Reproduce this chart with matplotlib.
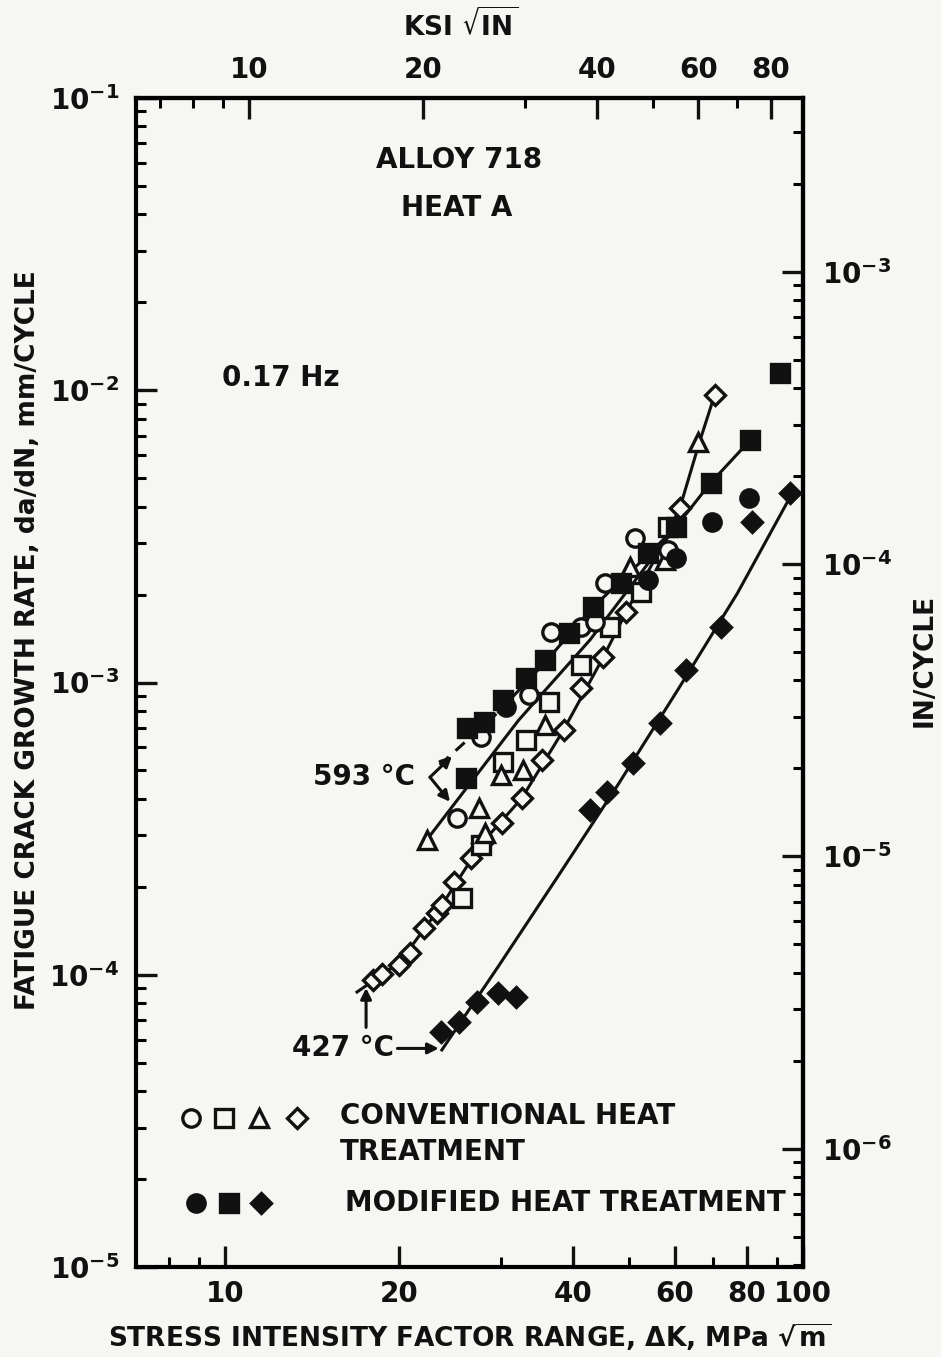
import matplotlib
matplotlib.use("Agg")
import matplotlib.pyplot as plt
from matplotlib.ticker import FixedLocator, FixedFormatter, NullFormatter

# ---------------- data (MPa*sqrt(m), mm/cycle) ----------------
open_circle_K = [25.2, 27.7, 33.5, 36.6, 41.2, 43.7, 45.5, 51.2, 58.3]
open_circle_da = [3.44e-4, 6.51e-4, 9.06e-4, 1.49e-3, 1.55e-3, 1.61e-3, 2.19e-3, 3.12e-3, 2.84e-3]

open_square_K = [25.7, 27.7, 30.3, 33.1, 36.3, 41.2, 46.4, 52.4, 58.3]
open_square_da = [1.83e-4, 2.78e-4, 5.34e-4, 6.36e-4, 8.58e-4, 1.15e-3, 1.55e-3, 2.04e-3, 3.40e-3]

open_tri_K = [22.3, 27.5, 28.2, 30.0, 32.8, 35.8, 50.2, 57.6, 65.7]
open_tri_da = [2.89e-4, 3.72e-4, 3.06e-4, 4.83e-4, 5.02e-4, 7.16e-4, 2.48e-3, 2.62e-3, 6.65e-3]

open_dia_K = [18.0, 18.7, 20.0, 20.9, 22.1, 23.2, 23.7, 24.9, 26.6, 27.8, 30.1, 32.6,
              35.3, 38.5, 41.3, 45.1, 49.4, 61.2, 70.3]
open_dia_da = [9.59e-5, 1.01e-4, 1.08e-4, 1.19e-4, 1.45e-4, 1.63e-4, 1.73e-4, 2.08e-4,
               2.51e-4, 2.82e-4, 3.30e-4, 4.02e-4, 5.43e-4, 6.88e-4, 9.58e-4, 1.22e-3,
               1.74e-3, 3.95e-3, 9.63e-3]

filled_circle_K = [30.6, 53.9, 60.2, 69.7, 80.7]
filled_circle_da = [8.25e-4, 2.24e-3, 2.67e-3, 3.54e-3, 4.28e-3]

filled_square_K = [26.1, 26.2, 28.0, 30.3, 33.1, 35.8, 39.3, 43.3, 48.4, 53.9, 60.2, 69.2, 81.1, 91.3]
filled_square_da = [4.71e-4, 6.99e-4, 7.32e-4, 8.71e-4, 1.04e-3, 1.19e-3, 1.48e-3, 1.81e-3,
                    2.19e-3, 2.77e-3, 3.40e-3, 4.82e-3, 6.76e-3, 1.146e-2]

filled_dia_K = [23.6, 25.4, 27.3, 29.7, 31.8, 42.8, 45.8, 50.8, 56.5, 62.7, 72.0, 81.7, 95.0]
filled_dia_da = [6.37e-5, 6.89e-5, 8.06e-5, 8.66e-5, 8.39e-5, 3.66e-4, 4.22e-4, 5.30e-4,
                 7.27e-4, 1.10e-3, 1.55e-3, 3.54e-3, 4.45e-3]

# fitted curves
curve_427_mod_K = [23.7, 29.7, 37.7, 47.9, 60.7, 77.0, 96.5]
curve_427_mod_da = [5.53e-5, 1.07e-4, 2.18e-4, 4.49e-4, 9.43e-4, 2.02e-3, 4.56e-3]

curve_427_conv_K = [16.9, 20.0, 23.7, 27.8, 32.6, 38.5, 45.1, 49.4, 56.1, 61.2, 66.2, 70.5]
curve_427_conv_da = [8.73e-5, 1.10e-4, 1.73e-4, 2.82e-4, 4.02e-4, 6.88e-4, 1.22e-3,
                     1.74e-3, 2.77e-3, 3.95e-3, 6.65e-3, 9.79e-3]

curve_593_low_K = [22.3, 32.2, 42.8, 60.2, 69.2, 81.1]
curve_593_low_da = [2.89e-4, 7.44e-4, 1.40e-3, 3.40e-3, 4.82e-3, 6.76e-3]

curve_593_up_dash_K = [23.5, 29.7]
curve_593_up_dash_da = [5.22e-4, 7.93e-4]
curve_593_up_K = [29.7, 35.8, 43.3, 53.9, 60.2]
curve_593_up_da = [7.93e-4, 1.175e-3, 1.81e-3, 2.73e-3, 3.40e-3]

x_major = [10, 20, 40, 60, 80, 100]
x_major_labels = ["10", "20", "40", "60", "80", "100"]
x_minor = [8, 9, 30, 50, 70, 90]
ksi_major = [10, 20, 40, 60, 80]
ksi_major_labels = ["10", "20", "40", "60", "80"]
ksi_minor = [7, 8, 9, 30, 50, 70]
y_major = [1e-5, 1e-4, 1e-3, 1e-2, 1e-1]
y_major_labels = [r"$10^{-5}$", r"$10^{-4}$", r"$10^{-3}$", r"$10^{-2}$", r"$10^{-1}$"]
in_major = [1e-6, 1e-5, 1e-4, 1e-3]
in_major_labels = [r"$10^{-6}$", r"$10^{-5}$", r"$10^{-4}$", r"$10^{-3}$"]

MPA_PER_KSI = 1.0988
MM_PER_IN = 25.4

# ---------------- figure ----------------
BG = "#f6f6f3"
INK = "#111111"
plt.rcParams["font.family"] = ["DejaVu Sans"]
plt.rcParams["font.weight"] = "bold"
plt.rcParams["mathtext.fontset"] = "dejavusans"
plt.rcParams["mathtext.default"] = "bf"

FS = 20
FS_TITLE = 19

fig = plt.figure(figsize=(9.41, 13.57), dpi=100, facecolor=BG)
ax = fig.add_axes([0.1445, 0.0663, 0.7088, 0.8615], facecolor=BG)
ax.set_xscale("log")
ax.set_yscale("log")
ax.set_xlim(7, 100)
ax.set_ylim(1e-5, 1e-1)

LW = 2.2
ms = 12.5
mew = 2.4

# curves
ax.plot(curve_427_mod_K, curve_427_mod_da, color=INK, lw=LW)
ax.plot(curve_427_conv_K, curve_427_conv_da, color=INK, lw=LW)
ax.plot(curve_593_low_K, curve_593_low_da, color=INK, lw=LW)
ax.plot(curve_593_up_dash_K, curve_593_up_dash_da, color=INK, lw=LW, dashes=(4, 3))
ax.plot(curve_593_up_K, curve_593_up_da, color=INK, lw=LW)

# data markers
def pts(K, da, marker, filled, size):
    ax.plot(K, da, ls="none", marker=marker, ms=size, mew=mew, mec=INK,
            mfc=INK if filled else BG, zorder=3)

pts(open_dia_K, open_dia_da, "D", False, ms * 0.85)
pts(open_square_K, open_square_da, "s", False, ms)
pts(open_tri_K, open_tri_da, "^", False, ms)
pts(open_circle_K, open_circle_da, "o", False, ms)
pts(filled_circle_K, filled_circle_da, "o", True, ms)
pts(filled_square_K, filled_square_da, "s", True, ms)
pts(filled_dia_K, filled_dia_da, "D", True, ms * 0.85)

# ticks
for spine in ax.spines.values():
    spine.set_linewidth(3)
ax.xaxis.set_major_locator(FixedLocator(x_major))
ax.xaxis.set_major_formatter(FixedFormatter(x_major_labels))
ax.xaxis.set_minor_locator(FixedLocator(x_minor))
ax.xaxis.set_minor_formatter(NullFormatter())
ax.yaxis.set_major_locator(FixedLocator(y_major))
ax.yaxis.set_major_formatter(FixedFormatter(y_major_labels))
ax.yaxis.set_minor_locator(FixedLocator([m * 10.0 ** e for e in range(-5, -1) for m in range(2, 10)]))
ax.yaxis.set_minor_formatter(NullFormatter())
ax.tick_params(which="major", direction="in", length=15, width=2.4, labelsize=FS, colors=INK)
ax.tick_params(which="minor", direction="in", length=7, width=2.2)
ax.tick_params(axis="x", which="major", pad=9)
ax.tick_params(axis="y", which="major", pad=12)
ax.tick_params(top=False, right=False)

top = ax.secondary_xaxis("top", functions=(lambda x: x / MPA_PER_KSI, lambda x: x * MPA_PER_KSI))
top.xaxis.set_major_locator(FixedLocator(ksi_major))
top.xaxis.set_major_formatter(FixedFormatter(ksi_major_labels))
top.xaxis.set_minor_locator(FixedLocator(ksi_minor))
top.xaxis.set_minor_formatter(NullFormatter())
top.tick_params(which="major", direction="in", length=15, width=2.4, labelsize=FS, pad=10, colors=INK)
top.tick_params(which="minor", direction="in", length=7, width=2.2)
top.spines["top"].set_linewidth(3)

right = ax.secondary_yaxis("right", functions=(lambda y: y / MM_PER_IN, lambda y: y * MM_PER_IN))
right.yaxis.set_major_locator(FixedLocator(in_major))
right.yaxis.set_major_formatter(FixedFormatter(in_major_labels))
right.yaxis.set_minor_locator(FixedLocator([m * 10.0 ** e for e in range(-7, -2) for m in range(2, 10)]))
right.yaxis.set_minor_formatter(NullFormatter())
right.tick_params(which="major", direction="in", length=15, width=2.4, labelsize=FS, pad=14, colors=INK)
right.tick_params(which="minor", direction="in", length=7, width=2.2)
right.spines["right"].set_linewidth(3)

# axis titles
fig.text(0.4985, 0.0147, r"STRESS INTENSITY FACTOR RANGE, $\Delta$K, MPa $\sqrt{m}$",
         ha="center", va="center", fontsize=FS_TITLE, color=INK)
fig.text(0.0298, 0.5284, "FATIGUE CRACK GROWTH RATE, da/dN, mm/CYCLE",
         ha="center", va="center", rotation=90, fontsize=FS_TITLE, color=INK)
fig.text(0.489, 0.9816, r"KSI $\sqrt{IN}$", ha="center", va="center", fontsize=FS_TITLE, color=INK)
fig.text(0.983, 0.5136, "IN/CYCLE", ha="center", va="center", rotation=90, fontsize=FS_TITLE, color=INK)

# annotations inside the plot
T = ax.transAxes
ax.text(0.484, 0.947, "ALLOY 718", transform=T, ha="center", va="center", fontsize=FS, color=INK)
ax.text(0.481, 0.906, "HEAT A", transform=T, ha="center", va="center", fontsize=FS, color=INK)
ax.text(0.129, 0.7605, "0.17 Hz", transform=T, ha="left", va="center", fontsize=FS, color=INK)
ax.text(0.342, 0.419, "593 °C", transform=T, ha="center", va="center", fontsize=FS, color=INK)
ax.text(0.310, 0.187, "427 °C", transform=T, ha="center", va="center", fontsize=FS, color=INK)

arrow = dict(arrowstyle="-|>", lw=2.2, color=INK, mutation_scale=16, shrinkA=0, shrinkB=0)
ax.annotate("", xy=(0.4738, 0.437), xytext=(0.4408, 0.419), xycoords=T, textcoords=T, arrowprops=arrow)
ax.annotate("", xy=(0.4708, 0.398), xytext=(0.4408, 0.419), xycoords=T, textcoords=T, arrowprops=arrow)
ax.annotate("", xy=(0.454, 0.187), xytext=(0.392, 0.187), xycoords=T, textcoords=T, arrowprops=arrow)
ax.annotate("", xy=(0.345, 0.2387), xytext=(0.345, 0.205), xycoords=T, textcoords=T, arrowprops=arrow)

# legend
for fx, mk in zip([0.0825, 0.132, 0.1844, 0.2414], ["o", "s", "^", "D"]):
    ax.plot([fx], [0.1275], transform=T, marker=mk, ms=ms * (0.85 if mk == "D" else 1.0),
            mew=mew, mec=INK, mfc=BG, clip_on=False, ls="none")
for fx, mk in zip([0.09, 0.1394, 0.1874], ["o", "s", "D"]):
    ax.plot([fx], [0.0547], transform=T, marker=mk, ms=ms * (0.85 if mk == "D" else 1.0),
            mew=mew, mec=INK, mfc=INK, clip_on=False, ls="none")
ax.text(0.306, 0.129, "CONVENTIONAL HEAT", transform=T, ha="left", va="center", fontsize=FS, color=INK)
ax.text(0.306, 0.0984, "TREATMENT", transform=T, ha="left", va="center", fontsize=FS, color=INK)
ax.text(0.313, 0.0547, "MODIFIED HEAT TREATMENT", transform=T, ha="left", va="center", fontsize=FS, color=INK)

fig.savefig("out.png", dpi=100, facecolor=BG)
